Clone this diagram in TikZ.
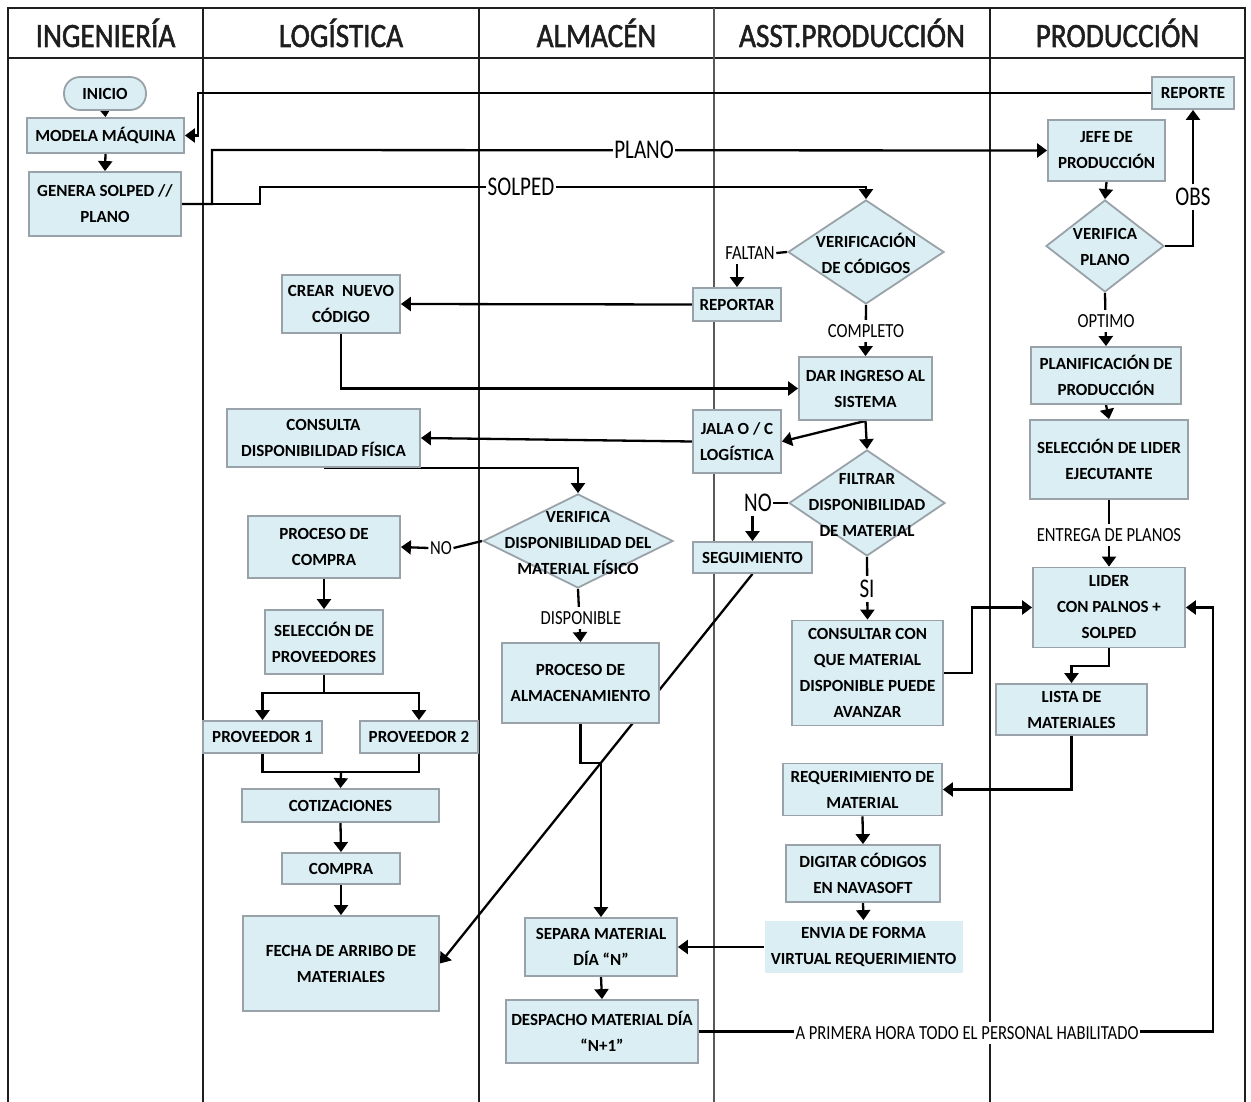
\documentclass[tikz,border=0pt]{standalone}
\usepackage{fontspec}
\setmainfont{Carlito}
\newfontfamily\headfont[FakeStretch=0.86,FakeBold=1.5]{Carlito}
\newfontfamily\condfont[FakeStretch=0.78]{Carlito}
\newfontfamily\smallcondfont[FakeStretch=0.83]{Carlito}
\usetikzlibrary{arrows.meta,shapes.geometric,calc}
\pgfdeclarelayer{lanes}
\pgfdeclarelayer{edges}
\pgfdeclarelayer{labels}
\pgfsetlayers{lanes,edges,main,labels}

\definecolor{boxfill}{HTML}{DAEEF3}
\definecolor{boxline}{HTML}{98A2A8}
\definecolor{laneline}{HTML}{1E1E1E}

\tikzset{
  sz/.style 2 args={minimum width=#1pt, minimum height=#2pt},
  proc/.style={draw=boxline, line width=1.8pt, fill=boxfill,
    font=\bfseries\fontsize{17}{26}\selectfont, align=center, inner sep=0pt},
  dia/.style={diamond, draw=boxline, line width=1.8pt, fill=boxfill, inner sep=0pt},
  diatext/.style={font=\bfseries\fontsize{17}{26}\selectfont, align=center, inner sep=0pt},
  flow/.style={line width=2.3pt, -{Triangle[length=10pt,width=14pt]}},
  plain/.style={line width=2.3pt},
  biglab/.style={font=\condfont\fontsize{27}{30}\selectfont, fill=white,
    inner xsep=1.5pt, inner ysep=4.5pt, text height=17pt, text depth=0pt},
  smalllab/.style={font=\smallcondfont\fontsize{20}{22}\selectfont, fill=white,
    inner xsep=1.5pt, inner ysep=4.5pt, text height=12.7pt, text depth=0pt},
  lanehead/.style={font=\headfont\fontsize{34}{36}\selectfont, anchor=base, text=laneline},
  lanerule/.style={line width=2pt, draw=laneline},
}

\begin{document}
\begin{tikzpicture}[x=1pt, y=-1pt]
\useasboundingbox (0,0) rectangle (1251,1102);

% ---------- swimlane grid ----------
\begin{pgfonlayer}{lanes}
  \fill[white] (0,0) rectangle (1251,1102);
  \draw[lanerule, line width=2.5pt] (8,1102) -- (8,8) -- (1245,8) -- (1245,1102);
  \draw[lanerule] (8,58) -- (1245,58);
  \foreach \lx in {203,479,990} \draw[lanerule] (\lx,8) -- (\lx,1102);
  \draw[lanerule, draw=black!65, line width=2.6pt] (714,8) -- (714,1102);
\end{pgfonlayer}

\node[lanehead] (hing) at (105.5,47) {INGENIERÍA};
\node[lanehead] (hlog) at (341,47) {LOGÍSTICA};
\node[lanehead] (halm) at (596.5,47) {ALMACÉN};
\node[lanehead] (hasst) at (852,47) {ASST.PRODUCCIÓN};
\node[lanehead] (hprod) at (1117.5,47) {PRODUCCIÓN};

% ---------- Ingeniería ----------
\node[proc, rounded corners=16pt, sz={82}{33}] (ini) at (105,93.5) {INICIO};
\node[proc, sz={157}{35}] (mod) at (105.5,135.5) {MODELA MÁQUINA};
\node[proc, sz={152}{64}] (gen) at (105,204) {GENERA SOLPED //\\PLANO};

% ---------- Producción ----------
\node[proc, sz={82}{32}] (rep) at (1193,93) {REPORTE};
\node[proc, sz={117}{61}] (jefe) at (1106.5,150.5) {JEFE DE\\PRODUCCIÓN};
\node[dia, sz={118}{92}] (vp) at (1105,246) {};
\node[diatext] (vpt) at (1105,247) {VERIFICA\\PLANO};
\node[proc, sz={150}{57}] (plan) at (1106,375.5) {PLANIFICACIÓN DE\\PRODUCCIÓN};
\node[proc, sz={158}{79}] (sel) at (1109,459.5) {SELECCIÓN DE LIDER\\EJECUTANTE};
\node[proc, sz={152}{80}] (lider) at (1109,607.5) {LIDER\\CON PALNOS +\\SOLPED};
\node[proc, sz={151}{51}] (lista) at (1071.5,709.5) {LISTA DE\\MATERIALES};

% ---------- Asst. Producción ----------
\node[dia, sz={156}{104}] (vc) at (866,252) {};
\node[diatext] (vct) at (866,253) {VERIFICACIÓN\\DE CÓDIGOS};
\node[proc, sz={88}{33}] (reportar) at (737,304.5) {REPORTAR};
\node[proc, sz={133}{63}] (dar) at (865.5,388.5) {DAR INGRESO AL\\SISTEMA};
\node[proc, sz={88}{63}] (jala) at (737,441.5) {JALA O / C\\LOGÍSTICA};
\node[dia, sz={156}{106}] (fil) at (867,503) {};
\node[diatext] (filt) at (867,505) {FILTRAR\\DISPONIBILIDAD\\DE MATERIAL};
\node[proc, sz={119}{31}] (seg) at (752.5,557.5) {SEGUIMIENTO};
\node[proc, sz={151}{105}] (consultar) at (867.5,673) {CONSULTAR CON\\QUE MATERIAL\\DISPONIBLE PUEDE\\AVANZAR};
\node[proc, sz={159}{52}] (req) at (862.5,789.5) {REQUERIMIENTO DE\\MATERIAL};
\node[proc, sz={154}{57}] (dig) at (863,873.5) {DIGITAR CÓDIGOS\\EN NAVASOFT};
\node[proc, draw=none, sz={198}{52}] (env) at (863.5,947) {ENVIA DE FORMA\\VIRTUAL REQUERIMIENTO};

% ---------- Logística ----------
\node[proc, sz={118}{58}] (crear) at (341,304) {CREAR~~NUEVO\\CÓDIGO};
\node[proc, sz={193}{58}] (cons) at (323.5,438) {CONSULTA\\DISPONIBILIDAD FÍSICA};
\node[proc, sz={152}{62}] (pcompra) at (324,547) {PROCESO DE\\COMPRA};
\node[proc, sz={118}{64}] (selprov) at (324,642) {SELECCIÓN DE\\PROVEEDORES};
\node[proc, sz={119}{32}] (prov1) at (262.5,737) {PROVEEDOR 1};
\node[proc, sz={118}{32}] (prov2) at (419,737) {PROVEEDOR 2};
\node[proc, sz={197}{33}] (cotiz) at (340.5,805.5) {COTIZACIONES};
\node[proc, sz={118}{31}] (compra) at (341,868.5) {COMPRA};
\node[proc, sz={196}{95}] (fecha) at (341,963.5) {FECHA DE ARRIBO DE\\MATERIALES};

% ---------- Almacén ----------
\node[dia, sz={190}{94}] (vf) at (578,541) {};
\node[diatext] (vft) at (578,543) {VERIFICA\\DISPONIBILIDAD DEL\\MATERIAL FÍSICO};
\node[proc, sz={157}{80}] (palm) at (580.5,683) {PROCESO DE\\ALMACENAMIENTO};
\node[proc, sz={152}{58}] (separa) at (601,947) {SEPARA MATERIAL\\DÍA “N”};
\node[proc, sz={192}{63}] (desp) at (602,1031.5) {DESPACHO MATERIAL DÍA\\“N+1”};

% ---------- connector labels (white backed, above the lines) ----------
\begin{pgfonlayer}{labels}
  \node[biglab] (lsolped) at (521,187) {SOLPED};
  \node[biglab] (lplano) at (644,150) {PLANO};
  \node[biglab] (lobs) at (1193,197) {OBS};
  \node[smalllab] (lfaltan) at (750,253) {FALTAN};
  \node[smalllab] (lcompleto) at (866,331) {COMPLETO};
  \node[smalllab] (loptimo) at (1106,321) {OPTIMO};
  \node[smalllab] (lentrega) at (1109,535) {ENTREGA DE PLANOS};
  \node[biglab] (lno2) at (758,503) {NO};
  \node[biglab] (lsi) at (867,589) {SI};
  \node[smalllab] (lno1) at (441,548) {NO};
  \node[smalllab] (ldisp) at (581,618) {DISPONIBLE};
  \node[smalllab] (lprimera) at (967,1033) {A PRIMERA HORA TODO EL PERSONAL HABILITADO};
\end{pgfonlayer}

\coordinate (split) at (324,693);
\coordinate (merge) at (341,772);

% ---------- connectors ----------
\begin{pgfonlayer}{edges}
  \draw[flow] (ini.south) -- (mod.north);
  \draw[flow] (mod.south) -- (gen.north);
  \draw[flow] (gen.east) -| (260,187) -| (vc.north);
  \draw[flow] (gen.east) -| (212,150) -- (jefe.west);
  \draw[flow] (rep.west) -| (198,135.5) -- (mod.east);
  \draw[flow] (jefe.south) -- (vp.north);
  \draw[flow] (vp.east) -| (rep.south);
  \draw[flow] (vp.south) -- (plan.north);
  \draw[flow] (plan.south) -- (sel.north);
  \draw[flow] (sel.south) -- (lider.north);
  \draw[flow] (lider.south) -- (1109,666) -| (lista.north);
  \draw[flow] (lista.south) |- (req.east);

  \draw[plain] (vc.west) -- (lfaltan.east);
  \draw[flow] (reportar.north |- lfaltan.south) -- (reportar.north);
  \draw[flow] (reportar.west) -- (crear.east);
  \draw[flow] (crear.south) |- (dar.west);
  \draw[flow] (vc.south) -- (dar.north);
  \draw[flow] (dar.south) -- (jala.east);
  \draw[flow] (dar.south) -- (fil.north);
  \draw[flow] (jala.west) -- (cons.east);
  \draw[flow] (cons.south) -| (vf.north);

  \draw[plain] (vf.west) -- (lno1.east);
  \draw[flow] (lno1.west) -- (pcompra.east);
  \draw[flow] (pcompra.south) -- (selprov.north);
  \draw[plain] (selprov.south) -- (split);
  \draw[flow] (split) -| (prov1.north);
  \draw[flow] (split) -| (prov2.north);
  \draw[plain] (prov1.south) |- (merge) -| (prov2.south);
  \draw[flow] (merge) -- (cotiz.north);
  \draw[flow] (cotiz.south) -- (compra.north);
  \draw[flow] (compra.south) -- (fecha.north);

  \draw[plain] (fil.west) -- (lno2.east);
  \draw[flow] (seg.north |- lno2.south) -- (seg.north);
  \draw[flow] (seg.south) -- (fecha.east);
  \draw[flow] (fil.south) -- (consultar.north);
  \draw[flow] (consultar.east) -- (972,673) |- (lider.west);

  \draw[flow] (vf.south) -- (palm.north);
  \draw[flow] (palm.south) -- (580.5,763) -| (separa.north);
  \draw[flow] (separa.south) -- (desp.north);
  \draw[flow] (req.south) -- (dig.north);
  \draw[flow] (dig.south) -- (env.north);
  \draw[flow] (env.west) -- (separa.east);
  \draw[flow] (desp.east) -- (1213,1031.5) |- (lider.east);
\end{pgfonlayer}
\end{tikzpicture}
\end{document}
